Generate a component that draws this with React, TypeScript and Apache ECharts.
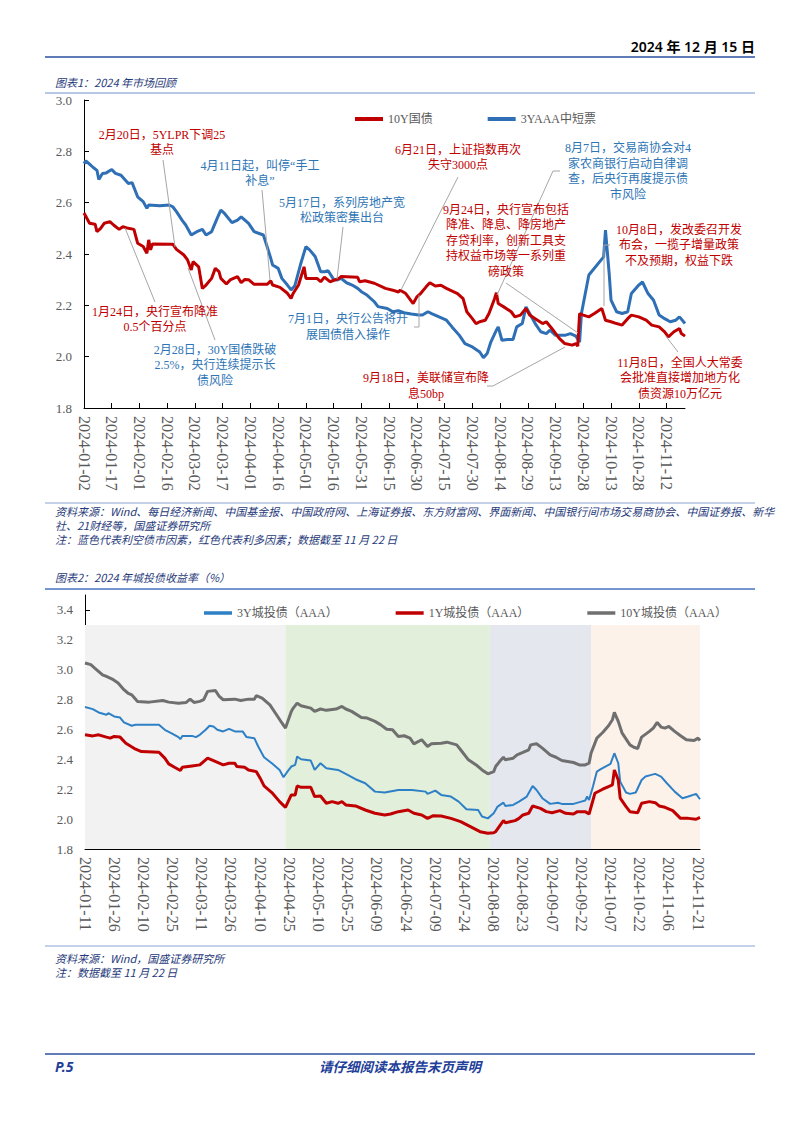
import React, { useEffect, useRef } from "react";
import * as echarts from "echarts";

// ---------- axis ranges ----------
const chart1Start = "2024-01-02";
const chart2Start = "2024-01-11";
const dataEnd = "2024-11-22";
const axis1Min = 1.8, axis1Max = 3.0;
const axis2Min = 1.8, axis2Max = 3.5;
const axisStep = 0.2;

// ---------- chart 1: 10Y government bond ----------
const cgb10yDates = ["01-02","01-05","01-08","01-09","01-11","01-13","01-16","01-18","01-21","01-23",
"01-26","01-29","01-31","02-03","02-05","02-06","02-07","02-08","02-19","02-21",
"02-25","02-27","02-29","03-01","03-04","03-06","03-08","03-11","03-13","03-15",
"03-16","03-19","03-21","03-25","03-27","03-29","03-31","04-03","04-10","04-12",
"04-13","04-17","04-21","04-23","04-24","04-27","04-30","05-01","05-07","05-09",
"05-11","05-14","05-19","05-20","05-29","05-30","06-02","06-07","06-13","06-17",
"06-20","06-21","06-24","06-28","06-30","07-02","07-05","07-07","07-10","07-13",
"07-16","07-18","07-22","07-25","07-27","07-30","08-01","08-03","08-06","08-08",
"08-11","08-12","08-13","08-16","08-20","08-22","08-25","08-28","08-30","09-02",
"09-06","09-08","09-11","09-15","09-18","09-22","09-24","09-25","09-26","09-28",
"10-01","10-04","10-08","10-10","10-13","10-16","10-19","10-22","10-24","10-28",
"11-01","11-04","11-08","11-11","11-13","11-16","11-19","11-20","11-22"];
const cgb10yValues = [2.56,2.52,2.516,2.487,2.50,2.52,2.526,2.513,2.496,2.506,
2.50,2.496,2.442,2.429,2.403,2.455,2.416,2.439,2.438,2.418,
2.396,2.377,2.338,2.37,2.35,2.266,2.279,2.305,2.344,2.331,
2.305,2.283,2.299,2.312,2.288,2.301,2.30,2.282,2.282,2.295,
2.279,2.27,2.247,2.227,2.245,2.279,2.35,2.305,2.305,2.292,
2.31,2.292,2.305,2.312,2.309,2.292,2.296,2.286,2.266,2.259,
2.252,2.259,2.246,2.207,2.233,2.246,2.272,2.288,2.275,2.278,
2.266,2.259,2.246,2.226,2.175,2.148,2.129,2.136,2.142,2.168,
2.226,2.249,2.207,2.194,2.175,2.155,2.162,2.188,2.162,2.148,
2.129,2.136,2.11,2.071,2.051,2.045,2.051,2.041,2.168,2.162,
2.155,2.168,2.188,2.142,2.136,2.129,2.123,2.148,2.162,2.155,
2.142,2.123,2.116,2.097,2.077,2.097,2.11,2.09,2.08];

// ---------- chart 1: 3Y AAA MTN ----------
const mtn3yDates = ["01-02","01-03","01-05","01-07","01-09","01-10","01-12","01-14","01-17","01-19",
"01-22","01-26","01-28","01-31","02-03","02-05","02-06","02-12","02-17","02-19",
"02-21","02-24","02-26","02-29","03-03","03-06","03-08","03-11","03-14","03-16",
"03-18","03-22","03-25","03-27","03-31","04-03","04-08","04-10","04-12","04-13",
"04-16","04-18","04-21","04-23","04-25","04-28","05-01","05-03","05-06","05-09",
"05-11","05-13","05-16","05-18","05-20","05-23","05-26","05-29","05-31","06-03",
"06-07","06-09","06-14","06-17","06-20","06-23","06-27","07-01","07-03","07-06",
"07-08","07-12","07-16","07-19","07-23","07-26","07-30","08-03","08-05","08-07",
"08-09","08-12","08-13","08-15","08-18","08-21","08-23","08-26","08-28","08-30",
"09-02","09-05","09-08","09-10","09-13","09-18","09-21","09-24","09-26","09-27",
"10-01","10-09","10-10","10-12","10-13","10-16","10-19","10-22","10-24","10-28",
"10-30","11-02","11-05","11-08","11-11","11-14","11-17","11-19","11-22"];
const mtn3yValues = [2.752,2.763,2.75,2.737,2.726,2.69,2.714,2.716,2.729,2.714,
2.707,2.675,2.678,2.623,2.604,2.578,2.591,2.588,2.591,2.584,
2.565,2.532,2.513,2.474,2.487,2.496,2.474,2.487,2.539,2.571,
2.558,2.522,2.532,2.545,2.519,2.487,2.474,2.429,2.383,2.357,
2.344,2.305,2.279,2.26,2.276,2.357,2.429,2.416,2.39,2.331,
2.331,2.335,2.301,2.299,2.305,2.288,2.279,2.266,2.253,2.24,
2.214,2.195,2.188,2.175,2.179,2.171,2.166,2.162,2.162,2.175,
2.168,2.155,2.142,2.116,2.083,2.051,2.038,2.018,1.996,2.012,
2.057,2.103,2.116,2.064,2.067,2.067,2.116,2.129,2.194,2.168,
2.129,2.097,2.09,2.103,2.083,2.083,2.09,2.08,2.057,2.168,
2.318,2.389,2.493,2.324,2.22,2.175,2.168,2.175,2.246,2.279,
2.291,2.246,2.22,2.162,2.148,2.136,2.142,2.155,2.129];

// ---------- chart 2: LGFV 10Y ----------
const lgfv10yDates = ["01-11","01-14","01-16","01-20","01-22","01-25","01-28","01-31","02-02","02-04",
"02-07","02-13","02-20","02-23","02-28","03-03","03-05","03-07","03-10","03-12",
"03-14","03-18","03-20","03-22","03-28","03-31","04-04","04-07","04-08","04-11",
"04-15","04-19","04-21","04-23","04-26","04-27","04-29","05-01","05-06","05-08",
"05-11","05-14","05-19","05-22","05-24","05-27","06-01","06-04","06-08","06-11",
"06-14","06-17","06-20","06-23","06-26","06-28","07-02","07-05","07-07","07-12",
"07-15","07-20","07-22","07-26","07-30","08-02","08-05","08-08","08-09","08-11",
"08-13","08-14","08-18","08-20","08-23","08-26","08-27","08-30","09-02","09-06",
"09-09","09-12","09-18","09-21","09-24","09-26","09-27","09-30","10-03","10-06",
"10-08","10-09","10-11","10-13","10-17","10-19","10-21","10-23","10-27","10-29",
"10-31","11-02","11-04","11-06","11-09","11-12","11-15","11-19","11-21","11-22"];
const lgfv10yValues = [3.045,3.034,3.011,2.966,2.955,2.937,2.911,2.866,2.844,2.832,
2.788,2.783,2.794,2.783,2.776,2.781,2.803,2.781,2.788,2.799,
2.855,2.861,2.821,2.799,2.803,2.794,2.803,2.803,2.826,2.81,
2.765,2.687,2.647,2.609,2.721,2.743,2.776,2.759,2.743,2.721,
2.737,2.728,2.737,2.754,2.737,2.721,2.68,2.676,2.654,2.631,
2.602,2.598,2.553,2.558,2.542,2.504,2.531,2.486,2.504,2.508,
2.515,2.497,2.464,2.397,2.363,2.329,2.303,2.318,2.352,2.385,
2.414,2.397,2.408,2.43,2.446,2.464,2.497,2.504,2.475,2.43,
2.414,2.392,2.379,2.363,2.363,2.374,2.441,2.542,2.58,2.625,
2.665,2.714,2.654,2.575,2.497,2.481,2.473,2.549,2.587,2.609,
2.647,2.616,2.609,2.62,2.587,2.558,2.531,2.526,2.542,2.526];

// ---------- chart 2: LGFV 3Y ----------
const lgfv3yDates = ["01-11","01-15","01-18","01-22","01-23","01-26","01-29","01-31","02-04","02-06",
"02-18","02-21","02-25","02-28","02-29","03-01","03-06","03-08","03-10","03-13",
"03-15","03-17","03-19","03-22","03-25","03-28","04-01","04-03","04-07","04-09",
"04-12","04-16","04-20","04-22","04-24","04-26","04-28","04-29","05-01","05-06",
"05-08","05-11","05-14","05-20","05-24","05-29","06-03","06-08","06-13","06-20",
"06-27","07-04","07-05","07-09","07-12","07-17","07-21","07-25","07-31","08-02",
"08-05","08-08","08-10","08-13","08-14","08-18","08-21","08-25","08-28","08-30",
"09-02","09-06","09-10","09-12","09-18","09-22","09-24","09-25","09-26","09-28",
"09-30","10-02","10-07","10-09","10-11","10-12","10-15","10-17","10-20","10-23",
"10-25","10-28","10-30","11-02","11-05","11-09","11-13","11-16","11-20","11-22"];
const lgfv3yValues = [2.75,2.736,2.714,2.698,2.709,2.687,2.68,2.647,2.625,2.632,
2.632,2.598,2.571,2.549,2.535,2.557,2.557,2.549,2.564,2.598,
2.625,2.62,2.598,2.587,2.604,2.587,2.587,2.549,2.542,2.486,
2.414,2.374,2.329,2.28,2.318,2.352,2.363,2.419,2.401,2.392,
2.329,2.374,2.341,2.329,2.303,2.267,2.24,2.184,2.178,2.195,
2.195,2.184,2.169,2.191,2.162,2.151,2.117,2.066,2.061,2.017,
2.005,2.039,2.084,2.11,2.088,2.095,2.117,2.151,2.222,2.195,
2.14,2.102,2.11,2.102,2.102,2.117,2.124,2.151,2.128,2.218,
2.318,2.334,2.37,2.441,2.374,2.251,2.178,2.169,2.178,2.262,
2.285,2.296,2.303,2.285,2.24,2.184,2.14,2.151,2.169,2.133];

// ---------- chart 2: LGFV 1Y ----------
const lgfv1yDates = ["01-11","01-15","01-18","01-22","01-24","01-26","01-29","02-01","02-06","02-09",
"02-18","02-21","02-23","02-26","02-29","03-01","03-06","03-10","03-14","03-17",
"03-22","03-25","03-28","03-29","04-02","04-04","04-08","04-10","04-12","04-16",
"04-20","04-23","04-26","04-28","04-29","05-01","05-06","05-08","05-11","05-14",
"05-17","05-20","05-22","05-24","05-29","06-03","06-08","06-13","06-16","06-20",
"06-25","06-28","07-02","07-05","07-08","07-12","07-17","07-22","07-27","08-01",
"08-05","08-08","08-09","08-13","08-14","08-19","08-21","08-23","08-26","08-28",
"09-01","09-04","09-07","09-11","09-14","09-18","09-20","09-24","09-26","09-29",
"10-03","10-06","10-08","10-09","10-11","10-12","10-15","10-17","10-21","10-23",
"10-27","10-30","11-01","11-04","11-08","11-12","11-16","11-20","11-22"];
const lgfv1yValues = [2.564,2.557,2.564,2.549,2.542,2.553,2.549,2.508,2.468,2.452,
2.448,2.408,2.37,2.347,2.325,2.347,2.356,2.363,2.408,2.392,
2.363,2.374,2.374,2.352,2.347,2.329,2.318,2.274,2.222,2.178,
2.117,2.079,2.162,2.162,2.222,2.213,2.213,2.151,2.155,2.106,
2.117,2.106,2.117,2.095,2.088,2.061,2.039,2.028,2.034,2.05,
2.061,2.039,2.028,2.005,2.023,2.021,2.005,1.983,1.95,1.916,
1.905,1.909,1.916,1.99,1.976,1.99,2.005,2.028,2.039,2.088,
2.072,2.05,2.043,2.057,2.039,2.034,2.05,2.05,2.034,2.173,
2.2,2.218,2.229,2.329,2.262,2.14,2.084,2.05,2.043,2.106,
2.117,2.11,2.088,2.079,2.057,2.005,2.005,1.999,2.012];

// ---------- chart 2: background phases ----------
const phaseStarts = ["01-11", "04-23", "08-06", "09-27"];
const phaseEnds = ["04-23", "08-06", "09-27", "11-22"];
const phaseTop = 3.3;
const phaseColors = ["#f2f2f2", "#e2efda", "#e4e8ee", "#fdf2ea"];

// ---------- styles ----------
const RED = "#c00000";
const BLUE1 = "#2e6fb5";
const BLUE_NOTE = "#2e75b6";
const NAVY = "#1f3a7a";
const SERIF = "'Liberation Serif', 'Times New Roman', 'Noto Sans CJK SC', serif";
const CJK = "'Noto Sans CJK SC', 'Noto Sans', sans-serif";

function dayRange(start: string, end: string): string[] {
  const out: string[] = [];
  let t = new Date(start + "T00:00:00Z").getTime();
  const e = new Date(end + "T00:00:00Z").getTime();
  while (t <= e) {
    out.push(new Date(t).toISOString().slice(0, 10));
    t += 86400000;
  }
  return out;
}
const pairs = (dates: string[], vals: number[]) => dates.map((d, i) => ["2024-" + d, vals[i]]);

const annotations = [
  { text: "2月20日，5YLPR下调25\n基点", x: 162, y: 127, c: RED },
  { text: "4月11日起，叫停“手工\n补息”", x: 260, y: 158, c: BLUE_NOTE },
  { text: "5月17日，系列房地产宽\n松政策密集出台", x: 342, y: 195, c: BLUE_NOTE },
  { text: "6月21日，上证指数再次\n失守3000点", x: 458, y: 142, c: RED },
  { text: "8月7日，交易商协会对4\n家农商银行启动自律调\n查，后央行再度提示债\n市风险", x: 628, y: 140.5, c: BLUE_NOTE },
  { text: "9月24日，央行宣布包括\n降准、降息、降房地产\n存贷利率，创新工具支\n持权益市场等一系列重\n磅政策", x: 506, y: 202, c: RED },
  { text: "10月8日，发改委召开发\n布会，一揽子增量政策\n不及预期，权益下跌", x: 679, y: 222, c: RED },
  { text: "11月8日，全国人大常委\n会批准直接增加地方化\n债资源10万亿元", x: 680, y: 355, c: RED },
  { text: "1月24日，央行宣布降准\n0.5个百分点", x: 155, y: 304, c: RED },
  { text: "2月28日，30Y国债跌破\n2.5%，央行连续提示长\n债风险", x: 215, y: 342, c: BLUE_NOTE },
  { text: "7月1日，央行公告将开\n展国债借入操作", x: 348, y: 311.5, c: BLUE_NOTE },
  { text: "9月18日，美联储宣布降\n息50bp", x: 426, y: 370.5, c: RED },
];
const leaders = [
  [[163, 160], [175, 247]],
  [[262, 190], [270, 280]],
  [[343, 227], [337, 279]],
  [[458, 177], [401, 290]],
  [[560, 171], [553, 171], [497, 295]],
  [[506, 283], [578, 333]],
  [[610, 245], [604, 245], [604, 306]],
  [[678, 352], [665, 335]],
  [[155, 302], [125, 228]],
  [[215, 340], [188, 268]],
  [[414, 327], [419, 327], [419, 295]],
  [[487, 386], [493, 386], [565, 347]],
];

function makeX(gridIndex: number, cats: string[]) {
  return {
    type: "category", gridIndex, data: cats, boundaryGap: false,
    axisLine: { show: true, lineStyle: { color: "#000", width: 1 } },
    axisTick: { show: true, inside: true, length: 5, interval: 14, lineStyle: { color: "#000" } },
    axisLabel: { interval: 14, rotate: -90, color: "#595959", fontFamily: SERIF, fontSize: 16, margin: 8 },
    splitLine: { show: false },
  };
}
function makeY(gridIndex: number, min: number, max: number, hideMax: boolean) {
  return {
    type: "value", gridIndex, min, max, interval: axisStep,
    axisLine: { show: true, lineStyle: { color: "#000", width: 1 } },
    axisTick: { show: true, inside: true, length: 5, lineStyle: { color: "#000" } },
    axisLabel: {
      color: "#595959", fontFamily: SERIF, fontSize: 13, margin: 12,
      showMaxLabel: !hideMax,
      formatter: (v: number) => v.toFixed(1),
    },
    splitLine: { show: false },
  };
}

const hline = (x1: number, x2: number, y: number, color: string, w: number) => ({
  type: "line", z: 100, shape: { x1, y1: y, x2, y2: y }, style: { stroke: color, lineWidth: w },
});
const txt = (text: string, x: number, y: number, o: any) => ({
  type: "text", z: 100, x, y,
  style: { text, textVerticalAlign: "middle", ...o },
});

export default function App() {
  const ref = useRef<HTMLDivElement>(null);
  useEffect(() => {
    const chart = echarts.init(ref.current!, null, { renderer: "svg" });
    const cats1 = dayRange(chart1Start, dataEnd);
    const cats2 = dayRange(chart2Start, dataEnd);
    const noteStyle = { fontSize: 12, fontFamily: SERIF, textAlign: "center", textVerticalAlign: "top", lineHeight: 15.5 };
    const srcStyle = { fontSize: 11, fontFamily: CJK, fontStyle: "italic", fill: NAVY };
    const legendText = { color: "#595959", fontFamily: SERIF, fontSize: 12 };

    const option: any = {
      animation: false,
      backgroundColor: "#ffffff",
      grid: [
        { left: 84, top: 100, width: 601, height: 308, outerBoundsMode: "none" },
        { left: 85, top: 595, width: 615, height: 254, outerBoundsMode: "none" },
      ],
      xAxis: [makeX(0, cats1), makeX(1, cats2)],
      yAxis: [makeY(0, axis1Min, axis1Max, false), makeY(1, axis2Min, axis2Max, true)],
      legend: [
        {
          data: ["10Y国债", "3YAAA中短票"], left: 350, top: 108, icon: "rect",
          itemWidth: 28, itemHeight: 4, itemGap: 55, textStyle: legendText,
        },
        {
          data: ["3Y城投债（AAA）", "1Y城投债（AAA）", "10Y城投债（AAA）"], left: 199, top: 602, icon: "rect",
          itemWidth: 28, itemHeight: 3.5, itemGap: 58, textStyle: legendText,
        },
      ],
      series: [
        {
          name: "10Y国债", type: "line", xAxisIndex: 0, yAxisIndex: 0, symbol: "none", z: 3,
          data: pairs(cgb10yDates, cgb10yValues),
          lineStyle: { color: RED, width: 3 }, itemStyle: { color: RED },
        },
        {
          name: "3YAAA中短票", type: "line", xAxisIndex: 0, yAxisIndex: 0, symbol: "none", z: 2,
          data: pairs(mtn3yDates, mtn3yValues),
          lineStyle: { color: BLUE1, width: 3 }, itemStyle: { color: BLUE1 },
        },
        {
          name: "phases", type: "line", xAxisIndex: 1, yAxisIndex: 1, data: [], z: 1, silent: true,
          markArea: {
            silent: true,
            data: phaseStarts.map((s, i) => [
              { xAxis: "2024-" + s, yAxis: axis2Min, itemStyle: { color: phaseColors[i] } },
              { xAxis: "2024-" + phaseEnds[i], yAxis: phaseTop },
            ]),
          },
        },
        {
          name: "3Y城投债（AAA）", type: "line", xAxisIndex: 1, yAxisIndex: 1, symbol: "none", z: 3,
          data: pairs(lgfv3yDates, lgfv3yValues),
          lineStyle: { color: "#2e80c6", width: 2 }, itemStyle: { color: "#2e80c6" },
        },
        {
          name: "1Y城投债（AAA）", type: "line", xAxisIndex: 1, yAxisIndex: 1, symbol: "none", z: 4,
          data: pairs(lgfv1yDates, lgfv1yValues),
          lineStyle: { color: RED, width: 3 }, itemStyle: { color: RED },
        },
        {
          name: "10Y城投债（AAA）", type: "line", xAxisIndex: 1, yAxisIndex: 1, symbol: "none", z: 5,
          data: pairs(lgfv10yDates, lgfv10yValues),
          lineStyle: { color: "#6f6f6f", width: 3 }, itemStyle: { color: "#6f6f6f" },
        },
      ],
      graphic: [
        txt("2024 年 12 月 15 日", 755, 46, { textAlign: "right", fontSize: 14, fontWeight: 600, fontFamily: "'Noto Sans', 'Noto Sans CJK SC', sans-serif", fill: "#000" }),
        hline(45, 755, 57, "#2a52a0", 1.5),
        txt("图表1：2024 年市场回顾", 55, 82, srcStyle),
        hline(45, 755, 93, "#6f8fc8", 1),
        hline(45, 755, 503, "#8aa3d1", 1),
        txt("资料来源：Wind、每日经济新闻、中国基金报、中国政府网、上海证券报、东方财富网、界面新闻、中国银行间市场交易商协会、中国证券报、新华", 55, 511, srcStyle),
        txt("社、21财经等，国盛证券研究所", 55, 525, srcStyle),
        txt("注：蓝色代表利空债市因素，红色代表利多因素；数据截至 11 月 22 日", 55, 539, srcStyle),
        txt("图表2：2024 年城投债收益率（%）", 55, 577, srcStyle),
        hline(45, 755, 589, "#7596cf", 2),
        hline(45, 755, 946, "#8aa3d1", 1),
        txt("资料来源：Wind，国盛证券研究所", 55, 958, srcStyle),
        txt("注：数据截至 11 月 22 日", 55, 972, srcStyle),
        hline(45, 755, 1054, "#2a52a0", 1.5),
        txt("P.5", 55, 1066, { fontSize: 14, fontWeight: "bold", fontStyle: "italic", fontFamily: "'Noto Sans', sans-serif", fill: "#1f3f99" }),
        txt("请仔细阅读本报告末页声明", 400, 1066, { textAlign: "center", fontSize: 13.5, fontWeight: "bold", fontStyle: "italic", fontFamily: CJK, fill: "#1f3f99" }),
        ...leaders.map((pts) => ({
          type: "polyline", z: 90, shape: { points: pts },
          style: { stroke: "#a6a6a6", lineWidth: 1, fill: null },
        })),
        ...annotations.map((a) => ({
          type: "text", z: 100, x: a.x, y: a.y,
          style: { text: a.text, fill: a.c, ...noteStyle },
        })),
      ],
    };
    chart.setOption(option);
    return () => chart.dispose();
  }, []);
  return (
    <div
      ref={ref}
      style={{ position: "absolute", left: 0, top: 0, width: 802, height: 1133, background: "#fff" }}
    />
  );
}
